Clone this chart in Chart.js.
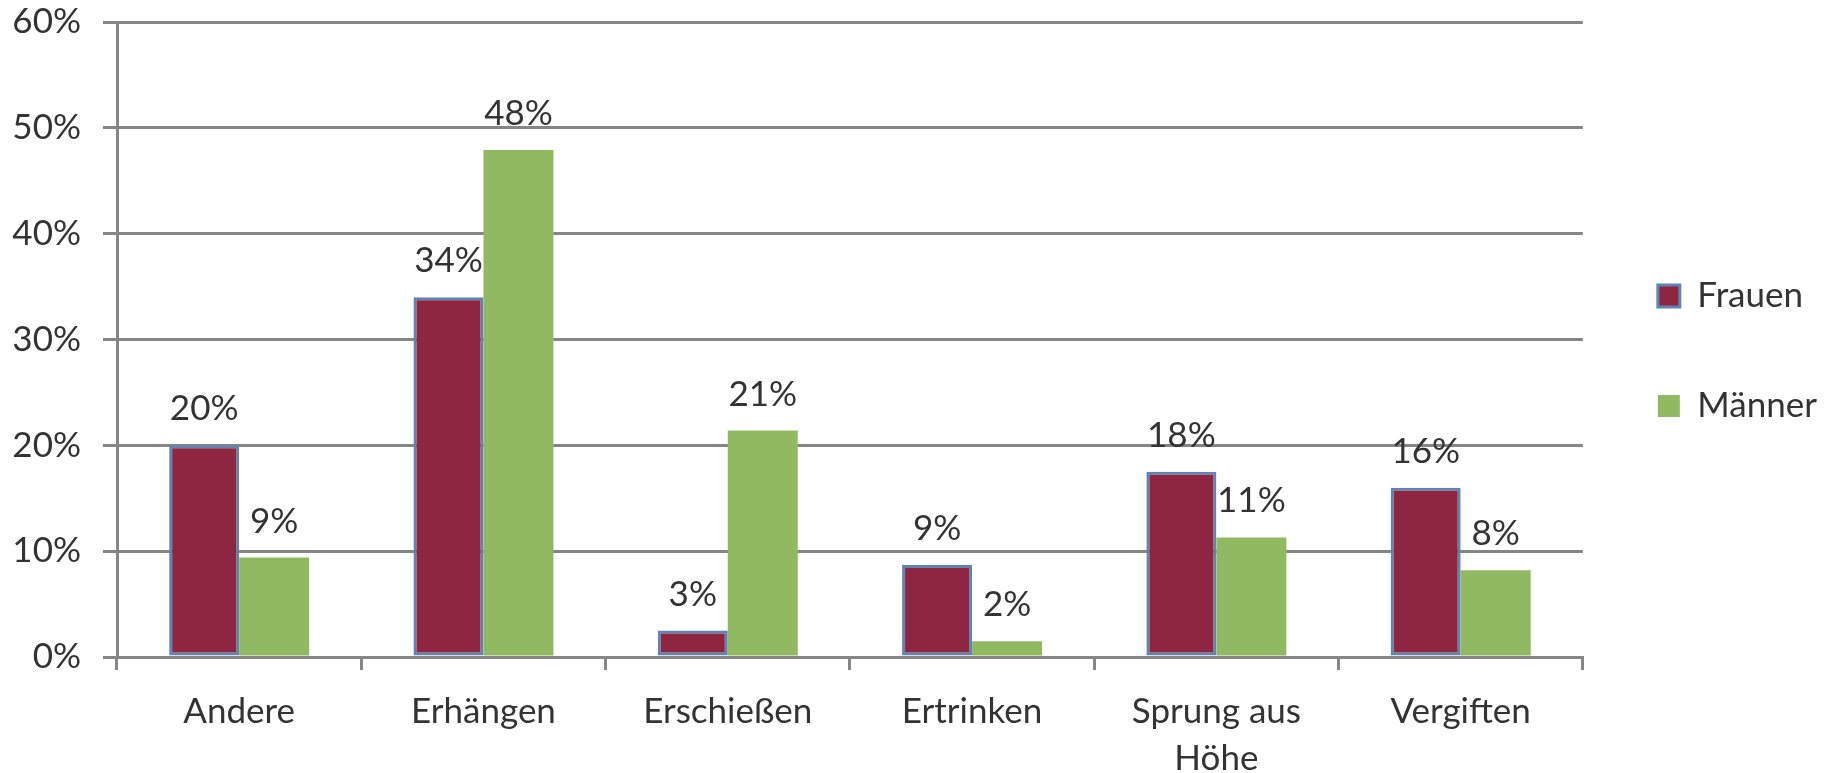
<!DOCTYPE html>
<html lang="de">
<head>
<meta charset="utf-8">
<title>Suizidmethoden nach Geschlecht</title>
<script src="https://cdn.jsdelivr.net/npm/chart.js@4.4.1/dist/chart.umd.min.js"></script>
<style>
  html, body { margin: 0; padding: 0; background: #ffffff; }
  #wrap { width: 1831px; height: 773px; position: relative; }
</style>
</head>
<body>
<div id="wrap"><canvas id="methodChart"></canvas></div>
<script>
// Daten
const categories = ['Andere', 'Erhängen', 'Erschießen', 'Ertrinken', ['Sprung aus', 'Höhe'], 'Vergiften'];
const frauen = [20.0, 34.0, 2.5, 8.7, 17.5, 16.0];
const maenner = [9.4, 47.9, 21.4, 1.5, 11.3, 8.2];
const yTicks = [0, 10, 20, 30, 40, 50, 60];

const textColor = '#333333';
const gridColor = '#868686';
const fontFamily = 'Lato, "Open Sans", sans-serif';

// Wertbeschriftungen über den Balken
const valueLabels = {
    id: 'valueLabels',
    afterDatasetsDraw(chart) {
        const ctx = chart.ctx;
        ctx.save();
        ctx.font = '35px ' + fontFamily;
        ctx.fillStyle = textColor;
        ctx.textAlign = 'center';
        ctx.textBaseline = 'alphabetic';
        chart.data.datasets.forEach((ds, i) => {
            chart.getDatasetMeta(i).data.forEach((bar, j) => {
                ctx.fillText(Math.round(ds.data[j]) + '%', bar.x, bar.y - 25);
            });
        });
        ctx.restore();
    }
};

const ctx = document.getElementById('methodChart').getContext('2d');
const methodChart = new Chart(ctx, {
    type: 'bar',
    data: {
        labels: categories,
        datasets: [
            {
                label: 'Frauen',
                data: frauen,
                backgroundColor: '#8E2641',
                borderColor: '#5F84B2',
                borderWidth: 3,
                borderSkipped: false
            },
            {
                label: 'Männer',
                data: maenner,
                backgroundColor: '#91B962',
                borderWidth: 0
            }
        ]
    },
    options: {
        responsive: true,
        maintainAspectRatio: false,
        animation: false,
        layout: {
            padding: { top: 22, left: 0, right: 4, bottom: 0 }
        },
        datasets: {
            bar: {
                barPercentage: 1.0,
                categoryPercentage: 0.573
            }
        },
        scales: {
            x: {
                grid: {
                    offset: true,
                    drawOnChartArea: false,
                    drawTicks: true,
                    tickLength: 13,
                    color: gridColor,
                    lineWidth: 3
                },
                border: { color: gridColor, width: 3 },
                ticks: {
                    color: textColor,
                    padding: 18,
                    maxRotation: 0,
                    autoSkip: false,
                    font: { family: fontFamily, size: 35, lineHeight: 1.34 }
                },
                afterFit(scale) { scale.height = 116; }
            },
            y: {
                min: 0,
                max: 60,
                afterBuildTicks(scale) {
                    scale.ticks = yTicks.map(v => ({ value: v }));
                },
                grid: {
                    color: gridColor,
                    lineWidth: 3,
                    tickLength: 14
                },
                border: { color: gridColor, width: 3 },
                ticks: {
                    color: textColor,
                    padding: 22,
                    font: { family: fontFamily, size: 35 },
                    callback: v => v + '%'
                },
                afterFit(scale) {
                    scale.width = 117;
                    // kein Extra-Abstand oben, die 60%-Linie liegt fast am Rand
                    scale.paddingTop = 0;
                    scale.paddingBottom = 0;
                }
            }
        },
        plugins: {
            legend: {
                position: 'right',
                fullSize: false,
                // leerer Titel nur als Abstand, damit die Legende wie im Original sitzt
                title: {
                    display: true,
                    text: '',
                    font: { size: 10, lineHeight: 1.2 },
                    padding: { top: 11, bottom: 0 }
                },
                labels: {
                    color: textColor,
                    boxWidth: 22,
                    boxHeight: 22,
                    padding: 75,
                    font: { family: fontFamily, size: 35 }
                }
            },
            tooltip: { enabled: false }
        }
    },
    plugins: [valueLabels]
});
</script>
</body>
</html>
